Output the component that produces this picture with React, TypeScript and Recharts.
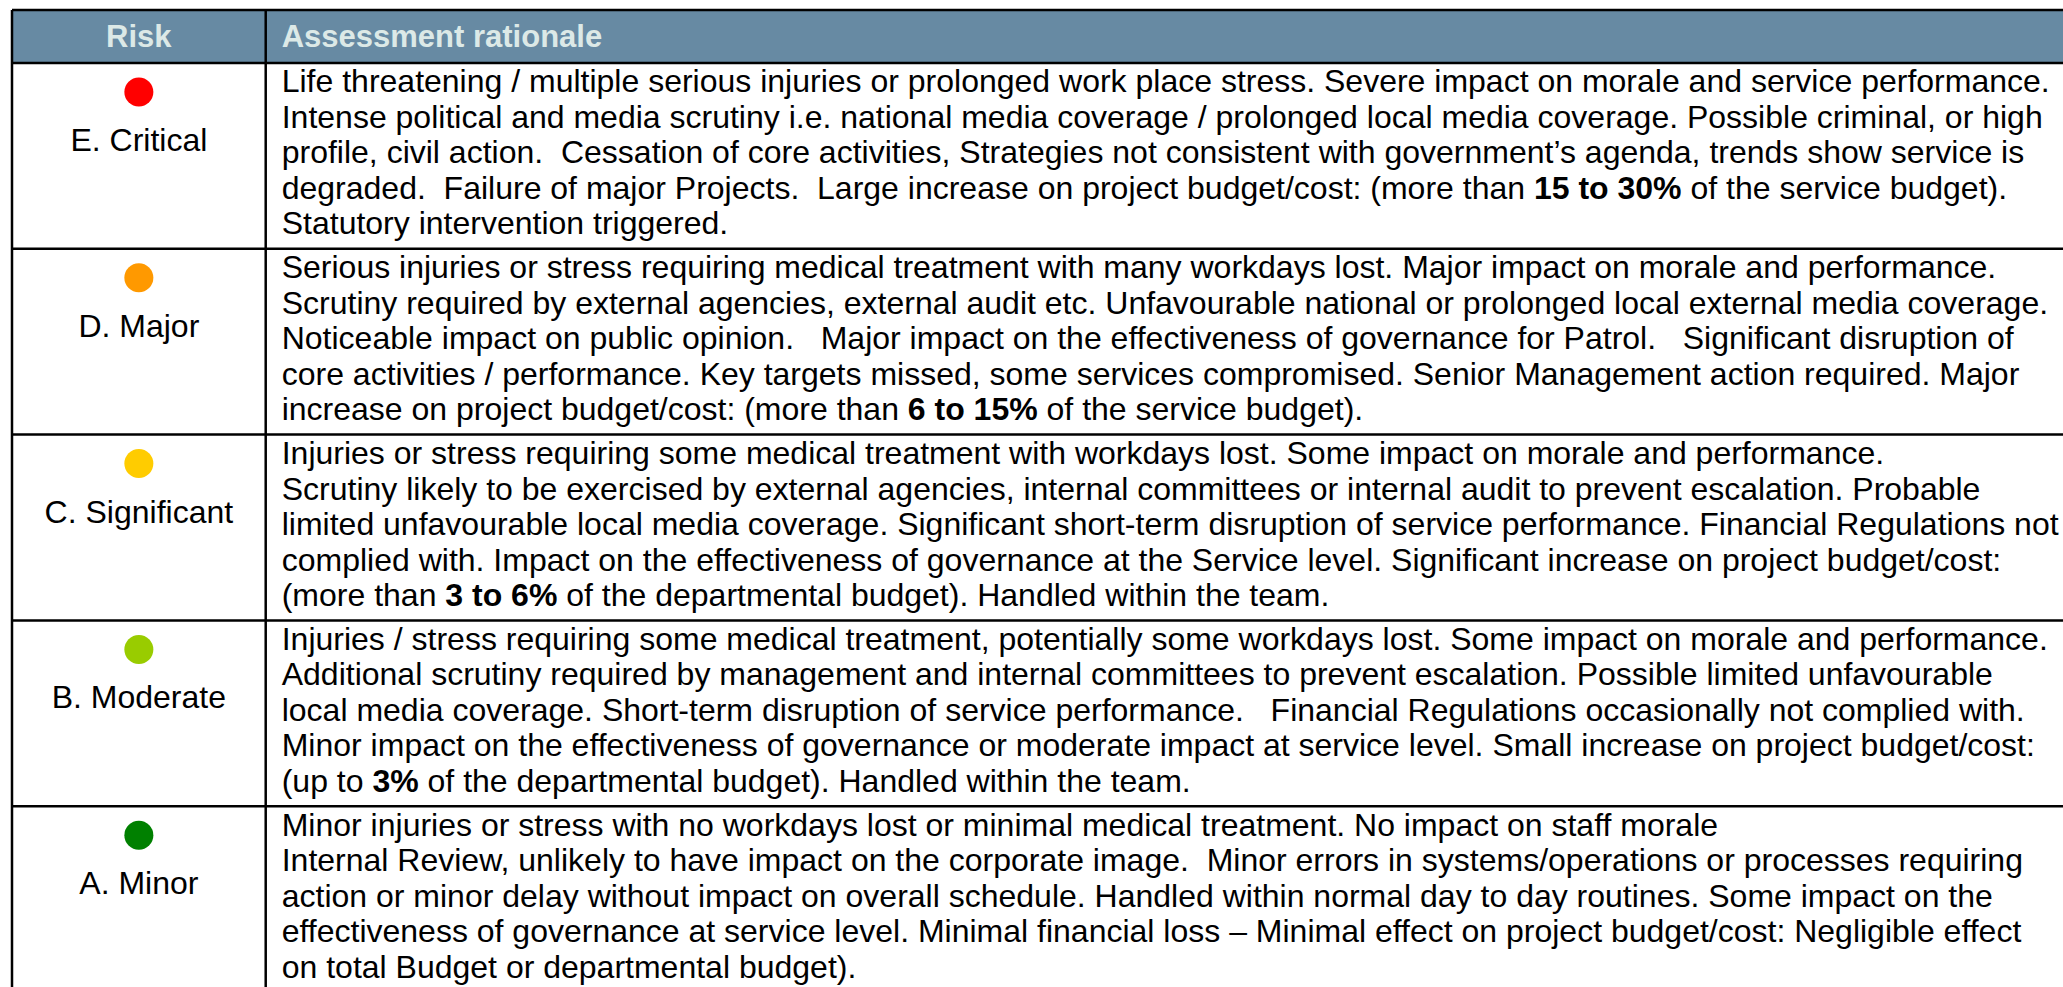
import React from 'react';
import { ScatterChart, Scatter, XAxis, YAxis, ReferenceLine, ReferenceArea } from 'recharts';

// rows of the risk matrix, top to bottom
const riskLevels = ['E. Critical', 'D. Major', 'C. Significant', 'B. Moderate', 'A. Minor'];
const riskColors = ['#FF0000', '#FF9900', '#FFCC00', '#99CC00', '#008000'];
const headerLabels = ['Risk', 'Assessment rationale'];

// **text** = bold
const rationaleCritical = [
  'Life threatening / multiple serious injuries or prolonged work place stress. Severe impact on morale and service performance.',
  'Intense political and media scrutiny i.e. national media coverage / prolonged local media coverage. Possible criminal, or high',
  'profile, civil action.  Cessation of core activities, Strategies not consistent with government\u2019s agenda, trends show service is',
  'degraded.  Failure of major Projects.  Large increase on project budget/cost: (more than **15 to 30%** of the service budget).',
  'Statutory intervention triggered.',
];
const rationaleMajor = [
  'Serious injuries or stress requiring medical treatment with many workdays lost. Major impact on morale and performance.',
  'Scrutiny required by external agencies, external audit etc. Unfavourable national or prolonged local external media coverage.',
  'Noticeable impact on public opinion.   Major impact on the effectiveness of governance for Patrol.   Significant disruption of',
  'core activities / performance. Key targets missed, some services compromised. Senior Management action required. Major',
  'increase on project budget/cost: (more than **6 to 15%** of the service budget).',
];
const rationaleSignificant = [
  'Injuries or stress requiring some medical treatment with workdays lost. Some impact on morale and performance.',
  'Scrutiny likely to be exercised by external agencies, internal committees or internal audit to prevent escalation. Probable',
  'limited unfavourable local media coverage. Significant short-term disruption of service performance. Financial Regulations not',
  'complied with. Impact on the effectiveness of governance at the Service level. Significant increase on project budget/cost:',
  '(more than **3 to 6%** of the departmental budget). Handled within the team.',
];
const rationaleModerate = [
  'Injuries / stress requiring some medical treatment, potentially some workdays lost. Some impact on morale and performance.',
  'Additional scrutiny required by management and internal committees to prevent escalation. Possible limited unfavourable',
  'local media coverage. Short-term disruption of service performance.   Financial Regulations occasionally not complied with.',
  'Minor impact on the effectiveness of governance or moderate impact at service level. Small increase on project budget/cost:',
  '(up to **3%** of the departmental budget). Handled within the team.',
];
const rationaleMinor = [
  'Minor injuries or stress with no workdays lost or minimal medical treatment. No impact on staff morale',
  'Internal Review, unlikely to have impact on the corporate image.  Minor errors in systems/operations or processes requiring',
  'action or minor delay without impact on overall schedule. Handled within normal day to day routines. Some impact on the',
  'effectiveness of governance at service level. Minimal financial loss \u2013 Minimal effect on project budget/cost: Negligible effect',
  'on total Budget or departmental budget).',
];
const rationale = [rationaleCritical, rationaleMajor, rationaleSignificant, rationaleModerate, rationaleMinor];

const RISK_COL = 0.1237; // share of table width used by the "Risk" column
const HEADER_SPAN = 0.285; // header height, in rows
const FONT = '"Liberation Sans", Arial, Helvetica, sans-serif';
const FS = 32;
const LINE_H = 35.5;

const riskData = riskLevels.map((label, row) => ({ x: RISK_COL / 2, y: row, label, row }));
const rationaleData = rationale.map((lines, row) => ({ x: RISK_COL, y: row, lines, row }));

const splitBold = (line: string) =>
  line.split('**').map((text, i) => ({ text, bold: i % 2 === 1 }));

const RiskCell = (props: any) => {
  const { cx, cy, payload } = props;
  return (
    <g>
      <circle cx={cx} cy={cy + 29} r={14.5} fill={riskColors[payload.row]} />
      <text x={cx} y={cy + 88} textAnchor="middle" fontFamily={FONT} fontSize={FS} fill="#000">
        {payload.label}
      </text>
    </g>
  );
};

const RationaleCell = (props: any) => {
  const { cx, cy, payload } = props;
  const x0 = cx + 16;
  return (
    <text x={x0} y={cy + 29.5} fontFamily={FONT} fontSize={FS} fill="#000"
      xmlSpace="preserve" style={{ whiteSpace: 'pre' }}>
      {payload.lines.map((line: string, i: number) => (
        <tspan key={i} x={x0} y={cy + 29.5 + i * LINE_H}>
          {splitBold(line).map((seg, j) => (
            <tspan key={j} fontWeight={seg.bold ? 'bold' : 'normal'}>{seg.text}</tspan>
          ))}
        </tspan>
      ))}
    </text>
  );
};

export default function App() {
  return (
    <div style={{ position: 'absolute', left: 0, top: 0, width: 2063, height: 987, overflow: 'hidden', background: '#fff', fontFamily: FONT }}>
      <ScatterChart width={2063} height={992} margin={{ top: 10, right: 0, bottom: 0, left: 12 }}>
        <XAxis type="number" dataKey="x" domain={[0, 1]} allowDataOverflow hide />
        <YAxis type="number" dataKey="y" domain={[-HEADER_SPAN, 5]} allowDataOverflow reversed hide />
        <ReferenceArea x1={0} x2={RISK_COL} y1={-HEADER_SPAN} y2={0} fill="#678AA3" fillOpacity={1} stroke="none"
          label={{ value: headerLabels[0], position: 'center', fill: '#DCE9E7', fontSize: 31, fontWeight: 'bold', fontFamily: FONT }} />
        <ReferenceArea x1={RISK_COL} x2={1} y1={-HEADER_SPAN} y2={0} fill="#678AA3" fillOpacity={1} stroke="none"
          label={{ value: headerLabels[1], position: 'insideLeft', offset: 16, fill: '#DCE9E7', fontSize: 31, fontWeight: 'bold', fontFamily: FONT }} />
        <ReferenceLine y={-HEADER_SPAN} stroke="#000" strokeWidth={2.5} />
        {riskLevels.map((_, i) => (
          <ReferenceLine key={i} y={i} stroke="#000" strokeWidth={2.5} />
        ))}
        <ReferenceLine x={0} stroke="#000" strokeWidth={2.5} />
        <ReferenceLine x={RISK_COL} stroke="#000" strokeWidth={2.5} />
        <Scatter data={riskData} shape={RiskCell} isAnimationActive={false} />
        <Scatter data={rationaleData} shape={RationaleCell} isAnimationActive={false} />
      </ScatterChart>
    </div>
  );
}
